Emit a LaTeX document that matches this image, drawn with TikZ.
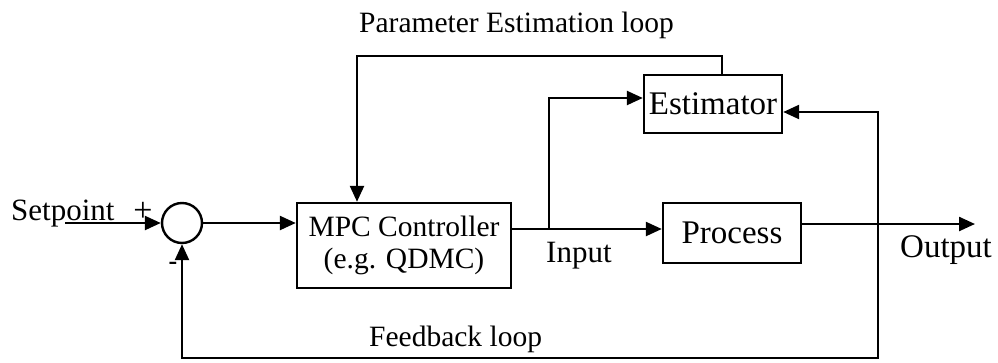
\documentclass[tikz,border=0pt]{standalone}
\usepackage{fontspec}
\setmainfont{Liberation Serif}
\usetikzlibrary{arrows.meta}
\begin{document}
\begin{tikzpicture}[x=1pt,y=-1pt,
  line width=2.4pt,
  conn/.style={-{Triangle[length=16pt,width=14pt]}},
  blk/.style={draw,inner sep=0pt,align=center},
  txt/.style={inner sep=0pt,anchor=base west},
  big/.style={font=\fontsize{33}{36}\selectfont},
  nrm/.style={font=\fontsize{31}{34}\selectfont},
  mid/.style={font=\fontsize{29.5}{33}\selectfont}]
\useasboundingbox (0,0) rectangle (998,362);
% blocks
\node[draw,circle,minimum size=40pt,inner sep=0pt] (sum) at (182,223) {};
\node[blk,mid,minimum width=214pt,minimum height=85pt] (mpc) at (404,245.5)
  {MPC Controller\\[-1pt](e.g. QDMC)};
\node[blk,big,minimum width=138pt,minimum height=58pt] (est) at (713,104) {Estimator};
\node[blk,big,minimum width=138pt,minimum height=60pt] (proc) at (732,233) {Process};
% texts
\node[txt,nrm] (tsp) at (10,220) {Setpoint};
\node[inner sep=0pt,font=\fontsize{34}{36}\selectfont] (tplus) at (143,212) {+};
\node[inner sep=0pt,font=\fontsize{26}{28}\selectfont\bfseries] (tminus) at (173,266) {-};
\node[txt,mid] (tpar) at (358,32) {Parameter Estimation loop};
\node[txt,mid] (tfb) at (368,346) {Feedback loop};
\node[txt,nrm] (tin) at (545,262) {Input};
\node[txt,big] (tout) at (899,257) {Output};
% coordinates
\coordinate (sp) at (65,223);
\coordinate (br) at (549,229);
\coordinate (jn) at (878,224);
\coordinate (outend) at (975,224);
\coordinate (ptop) at (722,56);
\coordinate (pleft) at (357,56);
\coordinate (fbot) at (878,358);
% connectors
\draw[conn] (sp) -- (sum.west);
\draw[conn] (sum.east) -- (sum.east -| mpc.west);
\draw[conn] (br -| mpc.east) -- (br -| proc.west);
\draw[conn] (br) |- ([yshift=6pt]est.west);
\draw[conn] (jn -| proc.east) -- (outend);
\draw[conn] (ptop |- est.north) -- (ptop) -- (pleft) -- (pleft |- mpc.north);
\draw[conn] (jn) |- ([yshift=-8pt]est.east);
\draw[conn] (jn) -- (fbot) -| (sum.south);
\end{tikzpicture}
\end{document}
